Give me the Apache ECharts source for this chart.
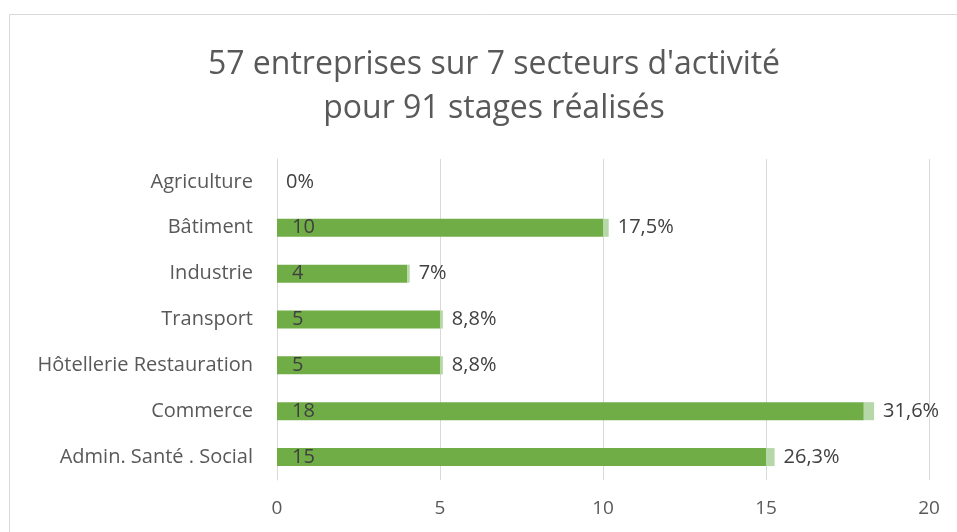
<!DOCTYPE html>
<html>
<head>
<meta charset="utf-8">
<script src="https://cdn.jsdelivr.net/npm/echarts@6/dist/echarts.min.js"></script>
<style>
  html, body { margin: 0; padding: 0; background: #fff; }
  #chart { width: 957px; height: 532px; }
</style>
</head>
<body>
<div id="chart"></div>
<script>
// categories bottom -> top (category axis grows upward)
const secteurs = ['Admin. Santé . Social', 'Commerce', 'Hôtellerie Restauration', 'Transport', 'Industrie', 'Bâtiment', 'Agriculture'];
const nbStages = [15, 18, 5, 5, 4, 10, 0];
const parts = [0.263, 0.316, 0.088, 0.088, 0.07, 0.175, 0];
const xTicks = [0, 5, 10, 15, 20];

const font = 'Open Sans, Noto Sans, sans-serif';
const chart = echarts.init(document.getElementById('chart'));

chart.setOption({
  animation: false,
  title: {
    text: "57 entreprises sur 7 secteurs d'activité\npour 91 stages réalisés",
    left: 489,
    textAlign: 'center',
    top: 38,
    textStyle: { fontFamily: font, fontWeight: 'normal', fontSize: 32, color: '#595959', lineHeight: 44 }
  },
  graphic: [{
    type: 'rect',
    shape: { x: 9.5, y: 14.5, width: 1000, height: 600 },
    style: { fill: 'none', stroke: '#d9d9d9', lineWidth: 1 },
    silent: true
  }],
  grid: { left: 277, right: 28, top: 159, bottom: 52, containLabel: false },
  xAxis: {
    type: 'value',
    min: xTicks[0],
    max: xTicks[xTicks.length - 1],
    interval: 5,
    axisLine: { show: false },
    axisTick: { show: false },
    axisLabel: { color: '#595959', fontSize: 19, fontFamily: font, margin: 19 },
    splitLine: { lineStyle: { color: '#d9d9d9', width: 1 } }
  },
  yAxis: {
    type: 'category',
    data: secteurs,
    axisLine: { show: true, lineStyle: { color: '#d9d9d9' } },
    axisTick: { show: false },
    axisLabel: { color: '#595959', fontSize: 20, fontFamily: font, margin: 24 }
  },
  series: [
    {
      name: 'Stages',
      type: 'bar',
      stack: 'total',
      data: nbStages,
      barWidth: 18,
      itemStyle: { color: '#70ad47' },
      label: {
        show: true,
        position: 'insideLeft',
        distance: 15,
        color: '#404040',
        fontSize: 20,
        fontFamily: font,
        formatter: p => (p.value === 0 ? '' : String(p.value))
      }
    },
    {
      name: 'Part',
      type: 'bar',
      stack: 'total',
      data: parts,
      barWidth: 18,
      itemStyle: { color: '#b6d7a8' },
      label: {
        show: true,
        position: 'right',
        distance: 9,
        color: '#404040',
        fontSize: 20,
        fontFamily: font,
        formatter: p => (Math.round(p.value * 1000) / 10).toString().replace('.', ',') + '%'
      }
    }
  ]
});
</script>
</body>
</html>
